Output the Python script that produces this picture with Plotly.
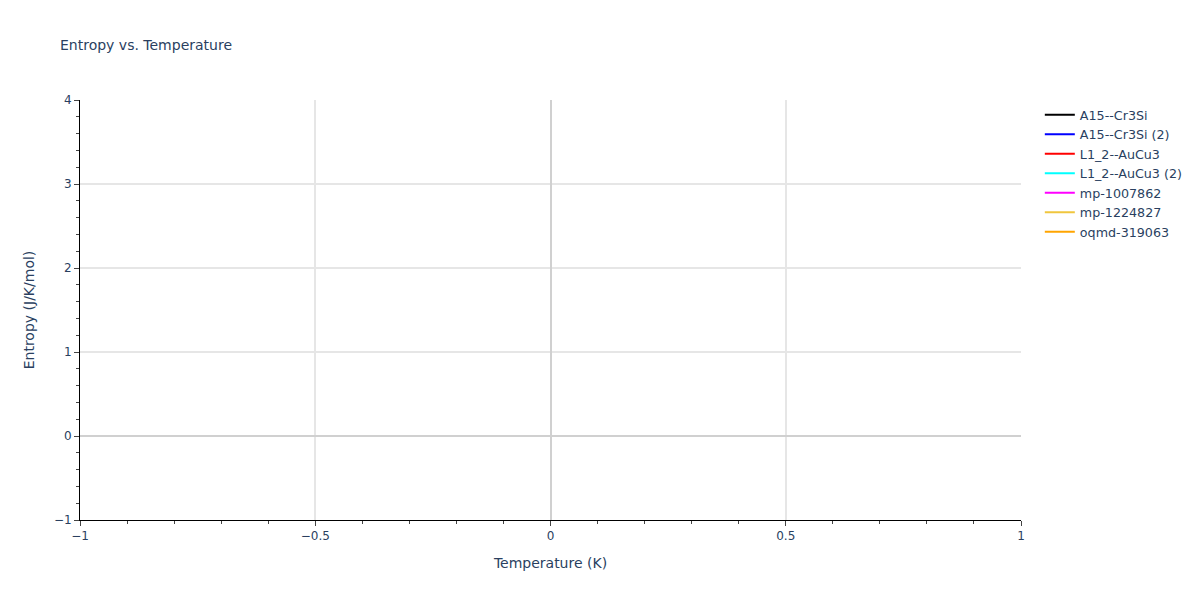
import plotly.graph_objects as go

# series names and colours as shown in the legend (the traces carry no points)
names = ['A15--Cr3Si', 'A15--Cr3Si (2)', 'L1_2--AuCu3', 'L1_2--AuCu3 (2)',
         'mp-1007862', 'mp-1224827', 'oqmd-319063']
colors = ['black', 'blue', 'red', 'cyan', 'magenta', '#F0C63E', 'orange']
temperature = [None]
entropy = [None]

fig = go.Figure()
for name, color in zip(names, colors):
    fig.add_trace(go.Scatter(x=temperature, y=entropy, mode='lines', name=name,
                             line=dict(color=color), showlegend=True))

fig.update_layout(
    template='plotly_white',
    width=1200, height=600,
    showlegend=True,
    font=dict(family='Verdana, DejaVu Sans, sans-serif'),
    legend=dict(font=dict(size=12.7)),
    title=dict(text='Entropy vs. Temperature', font=dict(size=14)),
    xaxis=dict(title='Temperature (K)', range=[-1, 1], showline=True, linecolor='black',
               ticks='outside', minor=dict(ticks='outside', dtick=0.1),
               zerolinecolor='#d0d0d0', zerolinewidth=2, gridcolor='#e6e6e6', gridwidth=2),
    yaxis=dict(title='Entropy (J/K/mol)', range=[-1, 4], showline=True, linecolor='black',
               ticks='outside', minor=dict(ticks='outside', dtick=0.2),
               zerolinecolor='#d0d0d0', zerolinewidth=2, gridcolor='#e6e6e6', gridwidth=2),
)

fig.write_html('out.html', config={'displayModeBar': False},
               post_script="document.body.style.margin='0';")
